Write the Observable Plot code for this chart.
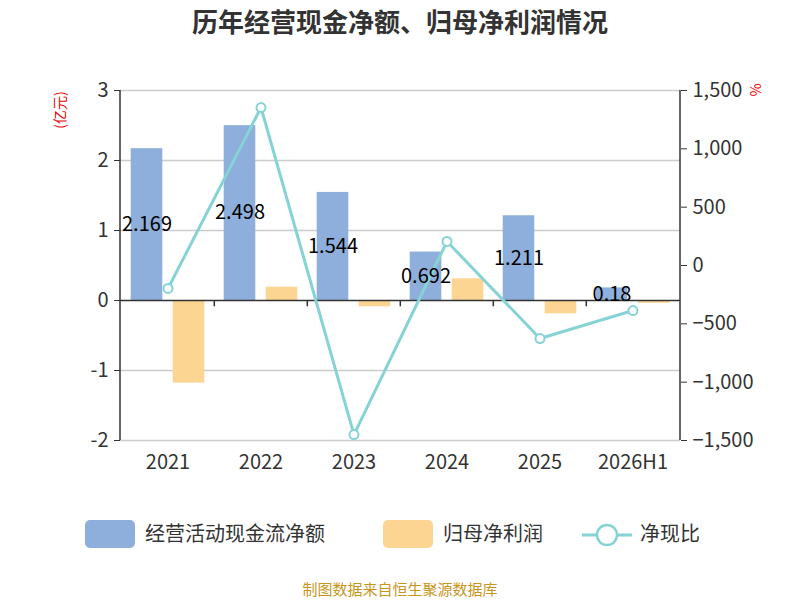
<!DOCTYPE html>
<html><head><meta charset="utf-8">
<script src="https://cdn.jsdelivr.net/npm/d3@7"></script>
<script src="https://cdn.jsdelivr.net/npm/@observablehq/plot@0.6"></script>
<style>
body{margin:0;background:#fff;font-family:"Noto Sans CJK SC","Noto Sans",sans-serif}
#wrap{position:relative;width:800px;height:600px}
.abs{position:absolute;white-space:nowrap}
</style></head><body>
<div id="wrap">
<div class="abs" style="top:2px;left:0;width:800px;text-align:center;font-size:26px;font-weight:bold;color:#333">历年经营现金净额、归母净利润情况</div>
<div class="abs" style="left:40px;top:100px;transform:rotate(-90deg);transform-origin:center;color:#e00;font-size:14px">(亿元)</div>
<div class="abs" style="left:750px;top:80px;transform:rotate(90deg);color:#e00;font-size:14px">%</div>
<div id="chart" class="abs" style="left:0;top:0"></div>
<div class="abs" style="top:520px;left:85px;width:50px;height:28px;background:#8eaedb;border-radius:5px"></div>
<div class="abs" style="top:518px;left:145px;font-size:20px;color:#333">经营活动现金流净额</div>
<div class="abs" style="top:520px;left:383px;width:50px;height:28px;background:#fdd592;border-radius:5px"></div>
<div class="abs" style="top:518px;left:443px;font-size:20px;color:#333">归母净利润</div>
<svg class="abs" style="top:520px;left:582px" width="50" height="30"><line x1="0" y1="15" x2="50" y2="15" stroke="#86d3d6" stroke-width="3"/><circle cx="25" cy="15" r="10" fill="#fff" stroke="#86d3d6" stroke-width="2.5"/></svg>
<div class="abs" style="top:518px;left:640px;font-size:20px;color:#333">净现比</div>
<div class="abs" style="top:578px;left:0;width:800px;text-align:center;font-size:15px;color:#c8961e">制图数据来自恒生聚源数据库</div>
</div>
<script>
const categories=["2021","2022","2023","2024","2025","2026H1"];
const cashFlow=[2.169,2.498,1.544,0.692,1.211,0.18];
const netProfit=[-1.18,0.19,-0.09,0.31,-0.19,-0.04];
const ratio=[-197,1354,-1449,206,-626,-386];
const leftTicks=[-2,-1,0,1,2,3];
const rightTicks=[-1500,-1000,-500,0,500,1000,1500];
const toLeft=r=>(r+1500)/600-2;
const rows=categories.map((c,i)=>({c,cf:cashFlow[i],np:netProfit[i],r:toLeft(ratio[i])}));
const fmt=d3.format(",");
const chart=Plot.plot({
  width:800,height:600,marginTop:90,marginBottom:160,marginLeft:120,marginRight:120,
  style:{fontSize:"20px",fontFamily:"Noto Sans CJK SC, Noto Sans, sans-serif",color:"#333"},
  x:{domain:categories,padding:0,label:null},
  y:{domain:[-2,3],label:null},
  marks:[
    Plot.ruleY(leftTicks.filter(d=>d!==0),{stroke:"#ccc",strokeWidth:1.5}),
    Plot.barY(rows,{x:"c",y:"cf",fill:"#8eaedb",dx:-21,insetLeft:30.7,insetRight:30.7}),
    Plot.barY(rows,{x:"c",y:"np",fill:"#fdd592",dx:21,insetLeft:30.7,insetRight:30.7}),
    Plot.ruleY([0],{stroke:"#333",strokeWidth:1.5}),
    Plot.ruleX(categories.slice(1),{x:d=>d,y1:0,y2:-0.09,stroke:"#333",strokeWidth:1.5,dx:-46.7}),
    Plot.line(rows,{x:"c",y:"r",stroke:"#86d3d6",strokeWidth:3}),
    Plot.dot(rows,{x:"c",y:"r",r:4.5,fill:"#fff",stroke:"#86d3d6",strokeWidth:2}),
    Plot.text(rows,{x:"c",y:d=>d.cf/2,text:d=>String(d.cf),dx:-21,fill:"#000",fontSize:20}),
    Plot.axisY(leftTicks,{anchor:"left",tickSize:6,fontSize:20,tickPadding:6,tickFormat:d=>String(d)}),
    Plot.axisY(rightTicks.map(toLeft),{anchor:"right",tickSize:6,fontSize:20,tickPadding:6,tickFormat:v=>fmt(Math.round((v+2)*600-1500))}),
    Plot.axisX({tickSize:0,fontSize:20,tickPadding:14})
  ]
});
document.getElementById("chart").appendChild(chart);
const svg=d3.select(chart);
svg.append("line").attr("x1",120).attr("x2",120).attr("y1",90).attr("y2",440).attr("stroke","#333").attr("stroke-width",1.5);
svg.append("line").attr("x1",680).attr("x2",680).attr("y1",90).attr("y2",440).attr("stroke","#333").attr("stroke-width",1.5);
</script>
</body></html>
